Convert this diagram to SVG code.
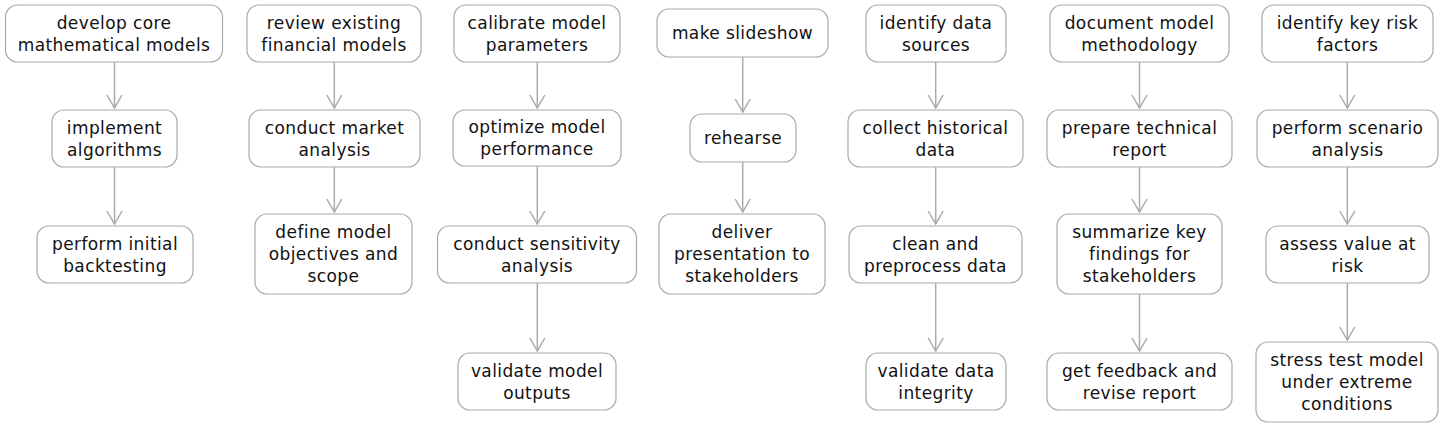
<svg xmlns="http://www.w3.org/2000/svg" width="1445" height="427" viewBox="0 0 1445 427">
<style>
.n rect{fill:#fff;stroke:#aaaaaa;stroke-width:1.2}
.n text{font-family:"DejaVu Sans",sans-serif;font-size:17px;letter-spacing:0.4px;fill:#111;text-anchor:middle}
.e line{stroke:#aaaaaa;stroke-width:1.5}
</style>
<defs>
<marker id="ah" viewBox="-16 -9 18 18" refX="0" refY="0" markerWidth="18" markerHeight="18" markerUnits="userSpaceOnUse" orient="auto">
<path d="M-13,-7.5 L0,0 L-13,7.5" fill="none" stroke="#aaaaaa" stroke-width="1.5"/>
</marker>
</defs>
<rect width="1445" height="427" fill="#fff"/>
<g class="e" id="connectors">
<line x1="114.5" y1="62" x2="114.5" y2="108" marker-end="url(#ah)"/>
<line x1="114.5" y1="167" x2="114.5" y2="224" marker-end="url(#ah)"/>
<line x1="334.3" y1="62" x2="334.3" y2="108" marker-end="url(#ah)"/>
<line x1="334.3" y1="167" x2="334.3" y2="212" marker-end="url(#ah)"/>
<line x1="537.3" y1="62" x2="537.3" y2="108" marker-end="url(#ah)"/>
<line x1="537.3" y1="166" x2="537.3" y2="224" marker-end="url(#ah)"/>
<line x1="537.3" y1="283" x2="537.3" y2="351" marker-end="url(#ah)"/>
<line x1="742.7" y1="57" x2="742.7" y2="112" marker-end="url(#ah)"/>
<line x1="742.7" y1="162" x2="742.7" y2="212" marker-end="url(#ah)"/>
<line x1="935.7" y1="62" x2="935.7" y2="108" marker-end="url(#ah)"/>
<line x1="935.7" y1="167" x2="935.7" y2="224" marker-end="url(#ah)"/>
<line x1="935.7" y1="283" x2="935.7" y2="351" marker-end="url(#ah)"/>
<line x1="1139.5" y1="62" x2="1139.5" y2="108" marker-end="url(#ah)"/>
<line x1="1139.5" y1="167" x2="1139.5" y2="212" marker-end="url(#ah)"/>
<line x1="1139.5" y1="294" x2="1139.5" y2="351" marker-end="url(#ah)"/>
<line x1="1347.3" y1="62" x2="1347.3" y2="108" marker-end="url(#ah)"/>
<line x1="1347.3" y1="167" x2="1347.3" y2="224" marker-end="url(#ah)"/>
<line x1="1347.3" y1="283" x2="1347.3" y2="340" marker-end="url(#ah)"/>
</g>
<g class="n" id="n1"><rect x="5.5" y="5" width="217" height="57" rx="12"/><text x="114" y="28.5">develop core</text><text x="114" y="50.5">mathematical models</text></g>
<g class="n" id="n2"><rect x="52" y="110" width="125" height="57" rx="12"/><text x="114.5" y="133.5">implement</text><text x="114.5" y="155.5">algorithms</text></g>
<g class="n" id="n3"><rect x="37" y="226" width="156" height="57" rx="12"/><text x="115" y="249.5">perform initial</text><text x="115" y="271.5">backtesting</text></g>
<g class="n" id="n4"><rect x="247" y="5" width="174" height="57" rx="12"/><text x="334" y="28.5">review existing</text><text x="334" y="50.5">financial models</text></g>
<g class="n" id="n5"><rect x="249" y="110" width="171" height="57" rx="12"/><text x="334.5" y="133.5">conduct market</text><text x="334.5" y="155.5">analysis</text></g>
<g class="n" id="n6"><rect x="255" y="214" width="157" height="80" rx="12"/><text x="333.5" y="238">define model</text><text x="333.5" y="260">objectives and</text><text x="333.5" y="282">scope</text></g>
<g class="n" id="n7"><rect x="454" y="5" width="166" height="57" rx="12"/><text x="537" y="28.5">calibrate model</text><text x="537" y="50.5">parameters</text></g>
<g class="n" id="n8"><rect x="453" y="110" width="168" height="56" rx="12"/><text x="537" y="133">optimize model</text><text x="537" y="155">performance</text></g>
<g class="n" id="n9"><rect x="437.5" y="226" width="199" height="57" rx="12"/><text x="537" y="249.5">conduct sensitivity</text><text x="537" y="271.5">analysis</text></g>
<g class="n" id="n10"><rect x="458" y="353" width="158" height="57" rx="12"/><text x="537" y="376.5">validate model</text><text x="537" y="398.5">outputs</text></g>
<g class="n" id="n11"><rect x="657" y="9" width="171" height="48" rx="12"/><text x="742.5" y="39">make slideshow</text></g>
<g class="n" id="n12"><rect x="690" y="114" width="106" height="48" rx="12"/><text x="743" y="144">rehearse</text></g>
<g class="n" id="n13"><rect x="659" y="214" width="166" height="80" rx="12"/><text x="742" y="238">deliver</text><text x="742" y="260">presentation to</text><text x="742" y="282">stakeholders</text></g>
<g class="n" id="n14"><rect x="866" y="5" width="140" height="57" rx="12"/><text x="936" y="28.5">identify data</text><text x="936" y="50.5">sources</text></g>
<g class="n" id="n15"><rect x="848" y="110" width="175" height="57" rx="12"/><text x="935.5" y="133.5">collect historical</text><text x="935.5" y="155.5">data</text></g>
<g class="n" id="n16"><rect x="849" y="226" width="173" height="57" rx="12"/><text x="935.5" y="249.5">clean and</text><text x="935.5" y="271.5">preprocess data</text></g>
<g class="n" id="n17"><rect x="866" y="353" width="140" height="57" rx="12"/><text x="936" y="376.5">validate data</text><text x="936" y="398.5">integrity</text></g>
<g class="n" id="n18"><rect x="1050" y="5" width="179" height="57" rx="12"/><text x="1139.5" y="28.5">document model</text><text x="1139.5" y="50.5">methodology</text></g>
<g class="n" id="n19"><rect x="1047" y="110" width="185" height="57" rx="12"/><text x="1139.5" y="133.5">prepare technical</text><text x="1139.5" y="155.5">report</text></g>
<g class="n" id="n20"><rect x="1057" y="214" width="165" height="80" rx="12"/><text x="1139.5" y="238">summarize key</text><text x="1139.5" y="260">findings for</text><text x="1139.5" y="282">stakeholders</text></g>
<g class="n" id="n21"><rect x="1047" y="353" width="185" height="57" rx="12"/><text x="1139.5" y="376.5">get feedback and</text><text x="1139.5" y="398.5">revise report</text></g>
<g class="n" id="n22"><rect x="1262" y="5" width="171" height="57" rx="12"/><text x="1347.5" y="28.5">identify key risk</text><text x="1347.5" y="50.5">factors</text></g>
<g class="n" id="n23"><rect x="1257" y="110" width="181" height="57" rx="12"/><text x="1347.5" y="133.5">perform scenario</text><text x="1347.5" y="155.5">analysis</text></g>
<g class="n" id="n24"><rect x="1266" y="226" width="163" height="57" rx="12"/><text x="1347.5" y="249.5">assess value at</text><text x="1347.5" y="271.5">risk</text></g>
<g class="n" id="n25"><rect x="1256" y="342" width="182" height="80" rx="12"/><text x="1347" y="366">stress test model</text><text x="1347" y="388">under extreme</text><text x="1347" y="410">conditions</text></g>
</svg>
